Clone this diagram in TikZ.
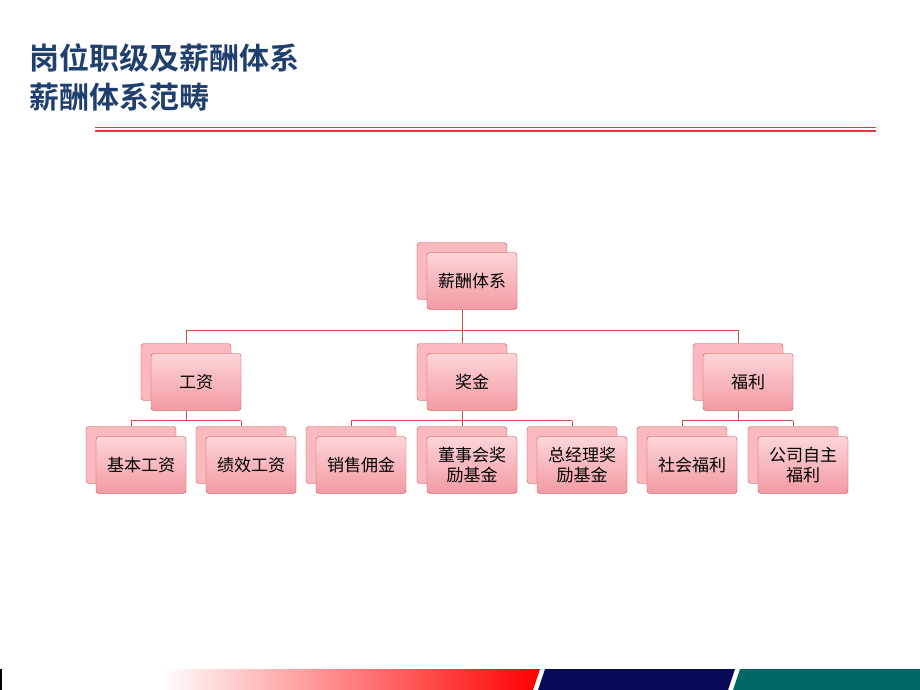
\documentclass[tikz,border=0pt]{standalone}
\usepackage{fontspec}
\setmainfont{Noto Sans CJK SC}
\newfontfamily\cjkbold{Noto Sans CJK SC Bold}
\usetikzlibrary{positioning,calc}
\definecolor{boxpink}{HTML}{FBB8BE}
\definecolor{boxdeep}{HTML}{F29AA3}
\definecolor{boxline}{HTML}{C0504D}
\definecolor{titleblue}{HTML}{1F3F6E}
\definecolor{rulered}{HTML}{E03A3E}
\definecolor{barnavy}{HTML}{0A0A5A}
\definecolor{barteal}{HTML}{006666}
\tikzset{
  backbox/.style={draw=boxline,fill=boxpink,rounded corners=3pt,minimum width=90pt,minimum height=57pt,inner sep=0pt},
  frontbox/.style={backbox,top color=boxpink!60!white,bottom color=boxdeep,align=center,font=\fontsize{17pt}{20pt}\selectfont},
  link/.style={draw=boxline,line width=0.8pt}
}
\begin{document}
\begin{tikzpicture}[x=1pt,y=-1pt]
  \useasboundingbox (0,0) rectangle (920,690);

  % title
  \node[anchor=west,text=titleblue,font=\cjkbold\fontsize{30pt}{32pt}\selectfont] (t1) at (26,58) {岗位职级及薪酬体系};
  \node[anchor=west,text=titleblue,font=\cjkbold\fontsize{30pt}{32pt}\selectfont] (t2) at (26,97) {薪酬体系范畴};
  \draw[rulered,line width=1.2pt] (95,127.5) -- (876,127.5);
  \draw[rulered,line width=1.2pt] (95,131) -- (876,131);

  % boxes: back at (x,y), front shifted by (10,10)
  \foreach \name/\x/\y/\txt in {root/462/271/薪酬体系, gz/186/372/工资, jj/462/372/奖金, fl/738/372/福利,
      a/131/455/基本工资, b/241/455/绩效工资, c/351/455/销售佣金, d/462/455/董事会奖\\励基金,
      e/572/455/总经理奖\\励基金, f/682/455/社会福利, g/793/455/公司自主\\福利} {
    \node[backbox] (\name) at (\x,\y) {};
    \node[frontbox] (\name-f) at (\x+10,\y+10) {\txt};
  }

  % connectors
  \coordinate (r1) at (462,330);
  \draw[link] (root-f.south -| root) -- (r1);
  \draw[link] (gz |- r1) -- (fl |- r1);
  \foreach \n in {gz,jj,fl} \draw[link] (\n |- r1) -- (\n.north);
  \foreach \p/\l/\r in {gz/a/b,jj/c/e,fl/f/g} {
    \coordinate (\p-m) at ($(\p-f.south)+(0,10)$);
    \draw[link] (\p-f.south -| \p) -- (\p |- \p-m);
    \draw[link] (\l |- \p-m) -- (\r |- \p-m);
  }
  \foreach \n in {a,b,c,d,e,f,g} \draw[link] (\n |- gz-m) -- (\n.north);

  % bottom bar
  \shade[left color=white,right color=red] (160,669) -- (540,669) -- (533,690) -- (160,690) -- cycle;
  \fill[barnavy] (545,669) -- (735,669) -- (728,690) -- (538,690) -- cycle;
  \fill[barteal] (740,669) -- (920,669) -- (920,690) -- (733,690) -- cycle;
  \fill[black] (0,669) rectangle (2,690);
\end{tikzpicture}
\end{document}
